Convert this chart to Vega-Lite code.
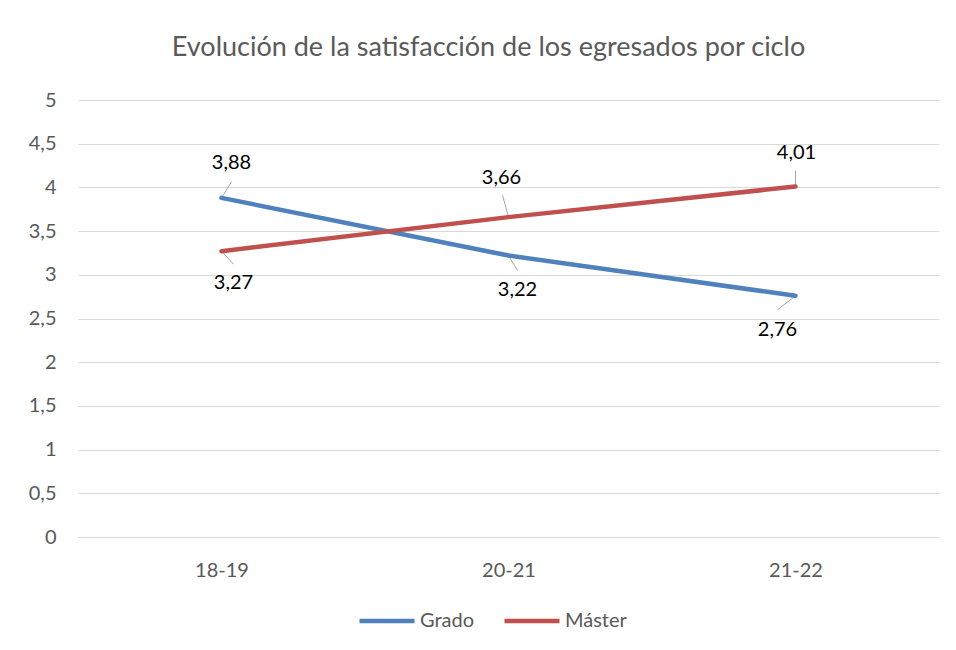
{
  "$schema": "https://vega.github.io/schema/vega-lite/v6.json",
  "width": 861,
  "height": 437,
  "autosize": {"type": "none"},
  "padding": {"left": 78, "top": 100, "right": 17, "bottom": 113},
  "background": "white",
  "title": {
    "text": "Evolución de la satisfacción de los egresados por ciclo",
    "font": "Lato",
    "fontSize": 27,
    "fontWeight": "normal",
    "color": "#595959",
    "anchor": "middle",
    "offset": 28,
    "dx": -20
  },
  "config": {
    "locale": {"number": {"decimal": ",", "thousands": ".", "grouping": [3], "currency": ["", " €"]}},
    "view": {"stroke": null},
    "font": "Lato"
  },
  "data": {
    "values": [
      {"ciclo": "18-19", "serie": "Grado", "valor": 3.88},
      {"ciclo": "20-21", "serie": "Grado", "valor": 3.22},
      {"ciclo": "21-22", "serie": "Grado", "valor": 2.76},
      {"ciclo": "18-19", "serie": "Máster", "valor": 3.27},
      {"ciclo": "20-21", "serie": "Máster", "valor": 3.66},
      {"ciclo": "21-22", "serie": "Máster", "valor": 4.01}
    ]
  },
  "encoding": {
    "x": {
      "field": "ciclo",
      "type": "ordinal",
      "scale": {"type": "point", "padding": 0.5},
      "axis": {
        "title": null,
        "labelAngle": 0,
        "labelFont": "Lato",
        "labelFontSize": 20,
        "labelColor": "#595959",
        "labelPadding": 23,
        "ticks": false,
        "domain": true,
        "domainColor": "#d9d9d9",
        "grid": false
      }
    },
    "y": {
      "field": "valor",
      "type": "quantitative",
      "scale": {"domain": [0, 5], "nice": false},
      "axis": {
        "title": null,
        "values": [0, 0.5, 1, 1.5, 2, 2.5, 3, 3.5, 4, 4.5, 5],
        "format": ".1~f",
        "labelFont": "Lato",
        "labelFontSize": 20,
        "labelColor": "#595959",
        "labelPadding": 22,
        "ticks": false,
        "domain": false,
        "grid": true,
        "gridColor": "#d9d9d9",
        "gridWidth": 1
      }
    }
  },
  "layer": [
    {
      "transform": [{"filter": "datum.serie == 'Grado' && datum.ciclo == '18-19'"}],
      "mark": {"type": "point", "shape": "M0,0L0.4,-0.64", "size": 2500, "filled": false, "stroke": "#a6a6a6", "strokeWidth": 1, "opacity": 1}
    },
    {
      "transform": [{"filter": "datum.serie == 'Grado' && datum.ciclo == '20-21'"}],
      "mark": {"type": "point", "shape": "M0,0L0.36,0.6", "size": 2500, "filled": false, "stroke": "#a6a6a6", "strokeWidth": 1, "opacity": 1}
    },
    {
      "transform": [{"filter": "datum.serie == 'Grado' && datum.ciclo == '21-22'"}],
      "mark": {"type": "point", "shape": "M0,0L-0.72,0.56", "size": 2500, "filled": false, "stroke": "#a6a6a6", "strokeWidth": 1, "opacity": 1}
    },
    {
      "transform": [{"filter": "datum.serie == 'Máster' && datum.ciclo == '18-19'"}],
      "mark": {"type": "point", "shape": "M0,0L0.48,0.52", "size": 2500, "filled": false, "stroke": "#a6a6a6", "strokeWidth": 1, "opacity": 1}
    },
    {
      "transform": [{"filter": "datum.serie == 'Máster' && datum.ciclo == '20-21'"}],
      "mark": {"type": "point", "shape": "M0,0L-0.24,-0.88", "size": 2500, "filled": false, "stroke": "#a6a6a6", "strokeWidth": 1, "opacity": 1}
    },
    {
      "transform": [{"filter": "datum.serie == 'Máster' && datum.ciclo == '21-22'"}],
      "mark": {"type": "point", "shape": "M0,0L0,-0.64", "size": 2500, "filled": false, "stroke": "#a6a6a6", "strokeWidth": 1, "opacity": 1}
    },
    {
      "mark": {"type": "line", "strokeWidth": 4.5, "strokeCap": "round", "strokeJoin": "round"},
      "encoding": {
        "color": {
          "field": "serie",
          "type": "nominal",
          "scale": {"domain": ["Grado", "Máster"], "range": ["#4f81bd", "#c0504d"]},
          "legend": {
            "title": null,
            "orient": "none",
            "legendX": 279,
            "legendY": 491,
            "direction": "horizontal",
            "symbolType": "stroke",
            "symbolSize": 3025,
            "symbolStrokeWidth": 4.5,
            "labelFont": "Lato",
            "labelFontSize": 20,
            "labelColor": "#595959",
            "labelOffset": 3,
            "columnPadding": 20
          }
        }
      }
    },
    {
      "transform": [{"filter": "datum.serie == 'Grado' && datum.ciclo == '18-19'"}],
      "mark": {"type": "text", "dx": 10, "dy": -35, "font": "Lato", "fontSize": 20, "color": "#000000"},
      "encoding": {"text": {"field": "valor", "type": "quantitative", "format": ".2f"}}
    },
    {
      "transform": [{"filter": "datum.serie == 'Grado' && datum.ciclo == '20-21'"}],
      "mark": {"type": "text", "dx": 9, "dy": 34, "font": "Lato", "fontSize": 20, "color": "#000000"},
      "encoding": {"text": {"field": "valor", "type": "quantitative", "format": ".2f"}}
    },
    {
      "transform": [{"filter": "datum.serie == 'Grado' && datum.ciclo == '21-22'"}],
      "mark": {"type": "text", "dx": -18, "dy": 34, "font": "Lato", "fontSize": 20, "color": "#000000"},
      "encoding": {"text": {"field": "valor", "type": "quantitative", "format": ".2f"}}
    },
    {
      "transform": [{"filter": "datum.serie == 'Máster' && datum.ciclo == '18-19'"}],
      "mark": {"type": "text", "dx": 12, "dy": 32, "font": "Lato", "fontSize": 20, "color": "#000000"},
      "encoding": {"text": {"field": "valor", "type": "quantitative", "format": ".2f"}}
    },
    {
      "transform": [{"filter": "datum.serie == 'Máster' && datum.ciclo == '20-21'"}],
      "mark": {"type": "text", "dx": -7, "dy": -39, "font": "Lato", "fontSize": 20, "color": "#000000"},
      "encoding": {"text": {"field": "valor", "type": "quantitative", "format": ".2f"}}
    },
    {
      "transform": [{"filter": "datum.serie == 'Máster' && datum.ciclo == '21-22'"}],
      "mark": {"type": "text", "dx": 1, "dy": -34, "font": "Lato", "fontSize": 20, "color": "#000000"},
      "encoding": {"text": {"field": "valor", "type": "quantitative", "format": ".2f"}}
    }
  ]
}
